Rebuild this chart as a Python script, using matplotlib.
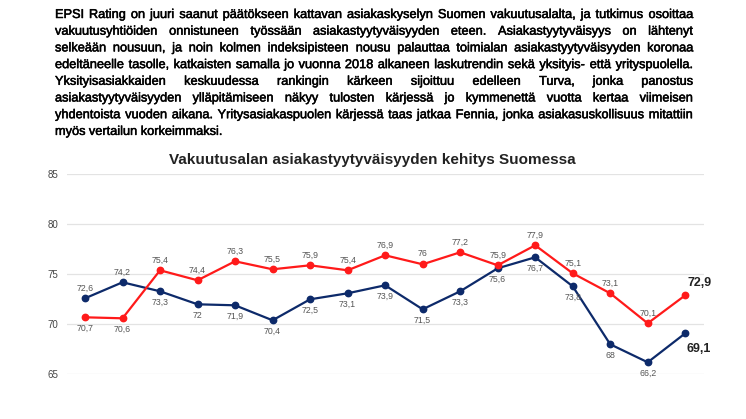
import matplotlib
matplotlib.use("Agg")
import matplotlib.pyplot as plt
import matplotlib.patheffects as pe

# chart data (index points per year)
navy_vals = [72.6, 74.2, 73.3, 72.0, 71.9, 70.4, 72.5, 73.1, 73.9, 71.5, 73.3, 75.6, 76.7, 73.8, 68.0, 66.2, 69.1]
red_vals = [70.7, 70.6, 75.4, 74.4, 76.3, 75.5, 75.9, 75.4, 76.9, 76.0, 77.2, 75.9, 77.9, 75.1, 73.1, 70.1, 72.9]
y_ticks = [65, 70, 75, 80, 85]
title_text = "Vakuutusalan asiakastyytyväisyyden kehitys Suomessa"

para_lines = [
    "EPSI Rating on juuri saanut päätökseen kattavan asiakaskyselyn Suomen vakuutusalalta, ja tutkimus osoittaa",
    "vakuutusyhtiöiden onnistuneen työssään asiakastyytyväisyyden eteen. Asiakastyytyväisyys on lähtenyt",
    "selkeään nousuun, ja noin kolmen indeksipisteen nousu palauttaa toimialan asiakastyytyväisyyden koronaa",
    "edeltäneelle tasolle, katkaisten samalla jo vuonna 2018 alkaneen laskutrendin sekä yksityis- että yrityspuolella.",
    "Yksityisasiakkaiden keskuudessa rankingin kärkeen sijoittuu edelleen Turva, jonka panostus",
    "asiakastyytyväisyyden ylläpitämiseen näkyy tulosten kärjessä jo kymmenettä vuotta kertaa viimeisen",
    "yhdentoista vuoden aikana. Yritysasiakaspuolen kärjessä taas jatkaa Fennia, jonka asiakasuskollisuus mitattiin",
    "myös vertailun korkeimmaksi.",
]

NAVY = "#0d2a6a"
RED = "#ff1a1a"
W, H = 746, 419
PARA_SIZE = 9.2

plt.rcParams["font.family"] = ["Liberation Sans", "DejaVu Sans"]
fig = plt.figure(figsize=(W / 100, H / 100), dpi=100)
fig.patch.set_facecolor("white")

# --- justified paragraph at the top ---
renderer = fig.canvas.get_renderer()
left_px, right_px = 55, 693
line_y0, line_step = 15, 16.7
bold_fx = [pe.withStroke(linewidth=0.35, foreground="black")]

def text_width(s):
    t = fig.text(0, 0, s, fontsize=PARA_SIZE)
    w = t.get_window_extent(renderer).width
    t.remove()
    return w

space = text_width("a a") - text_width("aa")
for i, line in enumerate(para_lines):
    words = line.split(" ")
    y = 1 - (line_y0 + i * line_step) / H
    texts = [fig.text(0, y, w, fontsize=PARA_SIZE, color="black", va="center",
                      ha="left", path_effects=bold_fx) for w in words]
    widths = [t.get_window_extent(renderer).width for t in texts]
    if i < len(para_lines) - 1 and len(words) > 1:
        gap = (right_px - left_px - sum(widths)) / (len(words) - 1)
    else:
        gap = space
    x = left_px
    for t, w in zip(texts, widths):
        t.set_x(x / W)
        x += w + gap

# --- line chart ---
ax = fig.add_axes([67 / W, 1 - 374.3 / H, (704 - 67) / W, 200 / H])
xs = list(range(len(navy_vals)))
ax.plot(xs, navy_vals, color=NAVY, lw=1.6, marker="o", ms=4.6, zorder=3, clip_on=False)
ax.plot(xs, red_vals, color=RED, lw=1.6, marker="o", ms=4.6, zorder=3, clip_on=False)

ax.set_xlim(-0.48, len(xs) - 0.5)
ax.set_ylim(65, 85)
ax.set_yticks(y_ticks)
ax.set_xticks([])
ax.grid(axis="y", color="#e3e3e3", lw=0.9)
ax.set_axisbelow(True)
for s in ax.spines.values():
    s.set_visible(False)
ax.tick_params(axis="y", length=0, labelsize=7, labelcolor="#444444", pad=6)

def fmt(v):
    return (f"{v:g}").replace(".", ",")

last = len(xs) - 1
for i in xs:
    nv, rv = navy_vals[i], red_vals[i]
    if i == last:
        ax.annotate(fmt(nv), (i, nv), xytext=(10, -11), textcoords="offset points",
                    ha="center", va="center", fontsize=9, fontweight="bold", color="#222222")
        ax.annotate(fmt(rv), (i, rv), xytext=(10, 9), textcoords="offset points",
                    ha="center", va="center", fontsize=9, fontweight="bold", color="#222222")
        continue
    n_off = 7.5 if i < 2 else -8
    r_off = -8 if i < 2 else 7.5
    ax.annotate(fmt(nv), (i, nv), xytext=(0, n_off), textcoords="offset points",
                ha="center", va="center", fontsize=6.3, color="#555555")
    ax.annotate(fmt(rv), (i, rv), xytext=(0, r_off), textcoords="offset points",
                ha="center", va="center", fontsize=6.3, color="#555555")

fig.text(372 / W, 1 - 160 / H, title_text, ha="center", va="center",
         fontsize=11, fontweight="bold", color="#222222")

fig.savefig("out.png", dpi=100, facecolor="white")
